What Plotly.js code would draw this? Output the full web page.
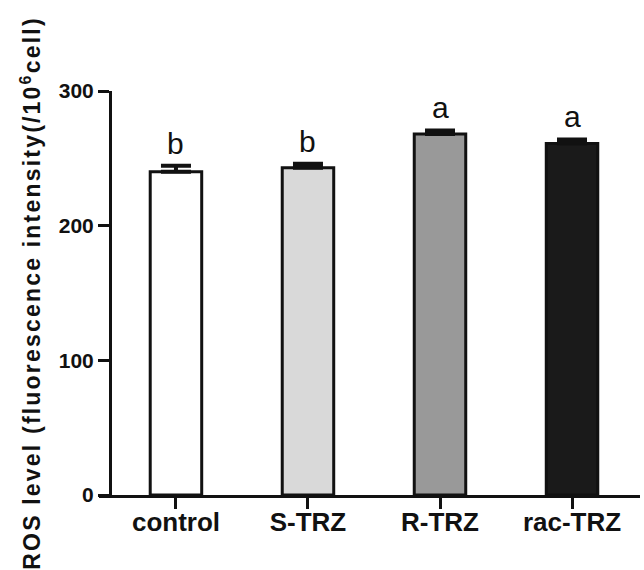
<!DOCTYPE html>
<html>
<head>
<meta charset="utf-8">
<script src="https://cdn.plot.ly/plotly-3.0.1.min.js"></script>
<style>
html,body{margin:0;padding:0;background:#fff;}
#chart{width:644px;height:570px;}
.ytitle{letter-spacing:2.2px;}
</style>
</head>
<body>
<div id="chart"></div>
<script>
var categories = ["control", "S-TRZ", "R-TRZ", "rac-TRZ"];
var rosValues = [240, 243, 268, 261];
var rosErrors = [4.5, 3, 2.7, 3];
var sigLetters = ["b", "b", "a", "a"];
var barColors = ["#ffffff", "#d9d9d9", "#999999", "#1a1a1a"];
var yTickVals = [0, 100, 200, 300];

var trace = {
  type: "bar",
  x: categories,
  y: rosValues,
  width: 0.39,
  marker: {color: barColors, line: {color: "#111111", width: 3}},
  error_y: {type: "data", symmetric: false, array: rosErrors, arrayminus: rosErrors.map(function(){return 0;}),
            color: "#111111", thickness: 4, width: 15},
  hoverinfo: "none"
};

var annotations = categories.map(function(c, i){
  return {x: c, y: rosValues[i] + rosErrors[i], xref: "x", yref: "y",
          text: sigLetters[i], showarrow: false, yanchor: "bottom", yshift: 4,
          font: {family: "Liberation Sans, Arial, sans-serif", size: 30, color: "#111111"}};
});

var layout = {
  width: 644, height: 570,
  margin: {l: 99, r: 4, t: 91, b: 75},
  paper_bgcolor: "#ffffff", plot_bgcolor: "#ffffff",
  showlegend: false,
  bargap: 0,
  xaxis: {
    type: "category", range: [-0.583, 3.515],
    showline: true, linecolor: "#111111", linewidth: 3,
    ticks: "outside", ticklen: 11, tickwidth: 3, tickcolor: "#111111",
    ticklabelstandoff: -9,
    showgrid: false, zeroline: false, automargin: false,
    tickfont: {family: "Liberation Sans, Arial, sans-serif", size: 26, color: "#111111", weight: "bold"}
  },
  yaxis: {
    range: [0, 300], anchor: "free", position: 0.0203,
    tickvals: yTickVals, ticktext: yTickVals.map(String),
    showline: true, linecolor: "#111111", linewidth: 3,
    ticks: "outside", ticklen: 11, tickwidth: 3, tickcolor: "#111111",
    showgrid: false, zeroline: false, automargin: false,
    tickfont: {family: "Liberation Sans, Arial, sans-serif", size: 21, color: "#111111", weight: "bold"},
    title: {text: "ROS level (fluorescence intensity(/10<sup>6</sup>cell)", standoff: 10,
            font: {family: "Liberation Sans, Arial, sans-serif", size: 23, color: "#111111", weight: "bold"}}
  },
  annotations: annotations
};

Plotly.newPlot("chart", [trace], layout, {displayModeBar: false, staticPlot: true});
</script>
</body>
</html>
